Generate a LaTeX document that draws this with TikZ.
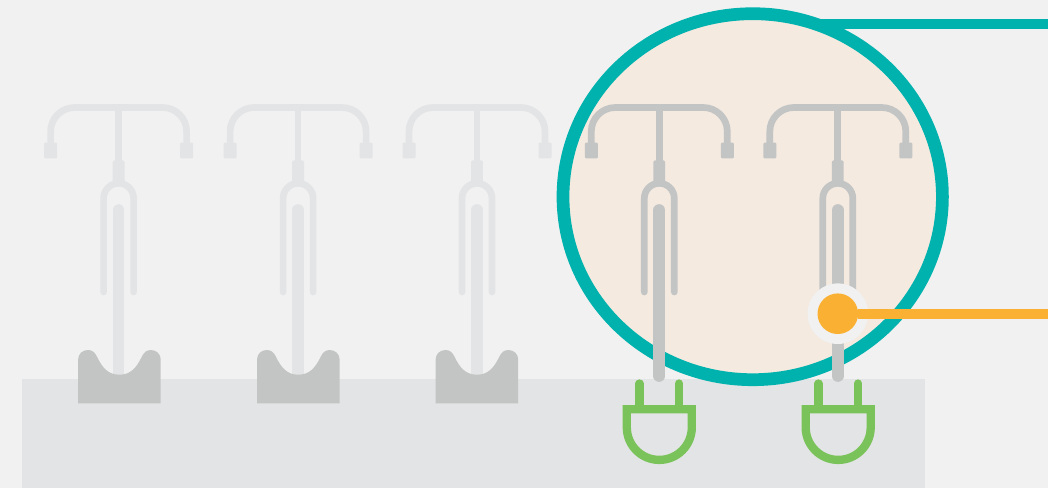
\documentclass[tikz,border=0pt]{standalone}
\usetikzlibrary{shapes.geometric}
\definecolor{bgc}{HTML}{F1F1F1}
\definecolor{floorc}{HTML}{E3E4E5}
\definecolor{lightc}{HTML}{E3E4E5}
\definecolor{darkc}{HTML}{C3C5C5}
\definecolor{cradlec}{HTML}{C3C5C4}
\definecolor{tealc}{HTML}{00B2AE}
\definecolor{peachc}{HTML}{F4EAE0}
\definecolor{orangec}{HTML}{FAB133}
\definecolor{greenc}{HTML}{7AC25A}
\newcommand{\standpic}[3]{%
\begin{scope}[shift={(#1,0)}]
\draw[line width=6.7pt,#2] (-68,146) -- (-68,131.5) arc[start angle=180,end angle=90,radius=24pt] -- (44,107.5) arc[start angle=90,end angle=0,radius=24pt] -- (68,146);
\draw[line width=6.7pt,#2] (0,107.5) -- (0,165);
\fill[#2,rounded corners=1pt] (-74.5,142.7) rectangle (-61.5,158.3);
\fill[#2,rounded corners=1pt] (61.5,142.7) rectangle (74.5,158.3);
\fill[#2,rounded corners=1.5pt] (-5.9,160.3) rectangle (5.9,186);
\draw[line width=6.7pt,line cap=round,#2] (-15,292) -- (-15,198.3) arc[start angle=180,end angle=0,radius=15pt] -- (15,292);
\draw[line width=11.7pt,line cap=round,#2] (0,210) -- (0,#3);
\end{scope}}
\newcommand{\cradlepic}[1]{%
\begin{scope}[shift={(#1,0)}]
\fill[cradlec] (-41.3,403.3) -- (-41.3,359.5) .. controls (-41.3,354) and (-37,350) .. (-31.5,350) .. controls (-27,350) and (-24.5,352.5) .. (-22.5,356.5) .. controls (-17,368) and (-11,374.7) .. (0,374.7) .. controls (11,374.7) and (17,368) .. (22.5,356.5) .. controls (24.5,352.5) and (27,350) .. (31.5,350) .. controls (37,350) and (41.3,354) .. (41.3,359.5) -- (41.3,403.3) -- cycle;
\end{scope}}
\newcommand{\plugpic}[1]{%
\begin{scope}[shift={(#1,0)}]
\draw[greenc,line width=8.3pt,line cap=round] (-19.8,383.5) -- (-19.8,408);
\draw[greenc,line width=8.3pt,line cap=round] (19.8,383.5) -- (19.8,408);
\draw[greenc,line width=8.3pt] (-32.5,409.2) -- (32.5,409.2) -- (32.5,427.4) arc[start angle=0,end angle=-180,radius=32.5pt] -- cycle;
\end{scope}}
\begin{document}
\begin{tikzpicture}[x=1pt,y=-1pt,
  lensnode/.style={ellipse,draw=tealc,fill=peachc,line width=12.7pt,minimum width=379.4pt,minimum height=366pt,inner sep=0pt,outer sep=0pt},
  ringnode/.style={circle,fill=bgc,minimum size=60.6pt,inner sep=0pt,outer sep=0pt},
  dotnode/.style={circle,fill=orangec,minimum size=40.6pt,inner sep=0pt,outer sep=0pt}]
\useasboundingbox (0,0) rectangle (1048,488);
\fill[bgc] (0,0) rectangle (1048,488);
\fill[floorc] (22,378.6) rectangle (925,488);
\coordinate (tealStart) at (818,24.3);
\coordinate (tealEnd) at (1048,24.3);
\coordinate (orangeEnd) at (1048,313.7);
\draw[tealc,line width=10pt] (tealStart) -- (tealEnd);
\node[lensnode] (lens) at (752.7,196.7) {};
\standpic{118.6}{lightc}{376}
\standpic{298.1}{lightc}{376}
\standpic{477}{lightc}{376}
\standpic{659.3}{darkc}{376}
\standpic{837.8}{darkc}{376}
\cradlepic{119.4}
\cradlepic{298.3}
\cradlepic{476.9}
\plugpic{659.3}
\plugpic{838.2}
\node[ringnode] (ring) at (837.8,313.7) {};
\node[dotnode] (dot) at (837.8,313.7) {};
\draw[orangec,line width=10pt] (dot) -- (orangeEnd);
\end{tikzpicture}
\end{document}
